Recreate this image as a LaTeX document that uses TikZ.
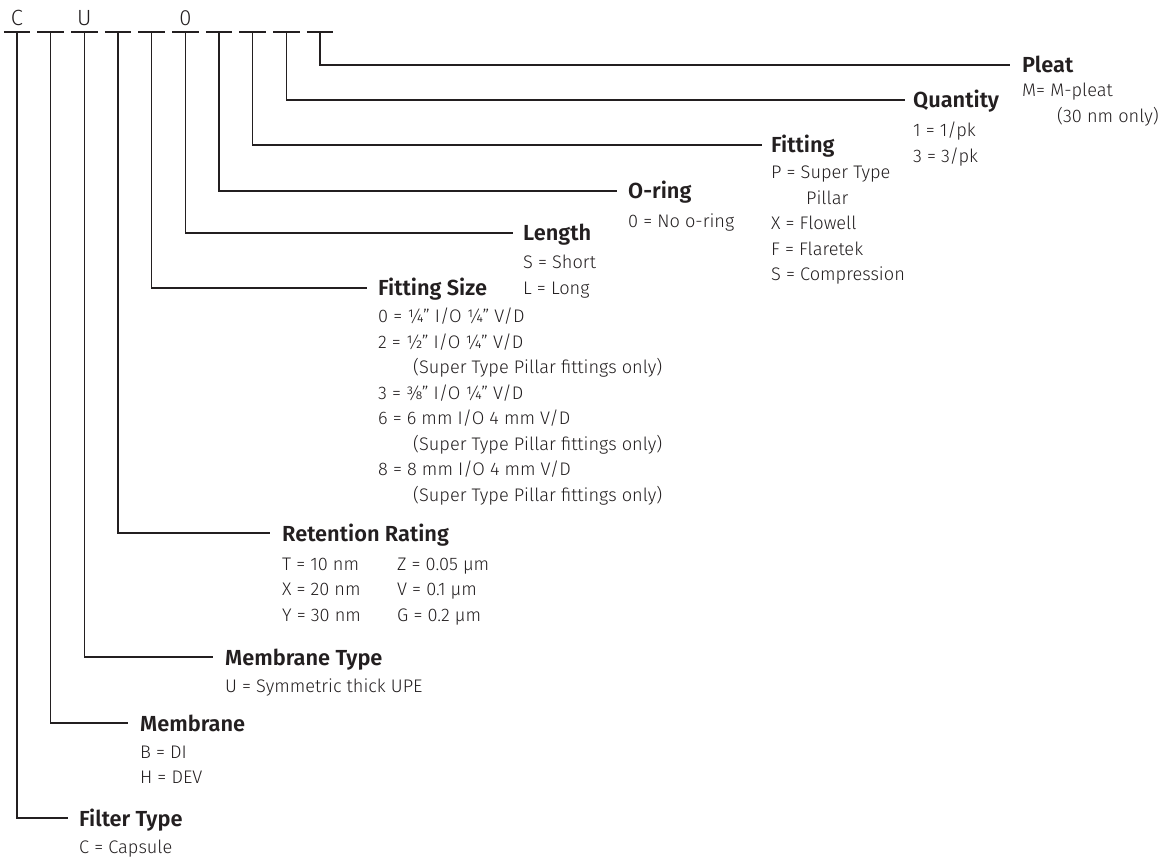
\documentclass[tikz,border=0pt]{standalone}
\usepackage{fontspec}
\setmainfont{Fira Sans Light}[BoldFont={Fira Sans SemiBold}]
\definecolor{ink}{HTML}{231F20}
\tikzset{
  slotline/.style={draw=ink, line width=1.6pt},
  leader/.style={draw=ink, line width=1.6pt},
  slotbox/.style={inner sep=0pt, minimum width=26pt, minimum height=0pt},
  head/.style={anchor=base west, inner sep=0pt, font=\fontsize{21.8}{24}\selectfont\bfseries, text=ink},
  body/.style={anchor=base west, inner sep=0pt, font=\fontsize{18.2}{25.5}\selectfont, text=ink},
  codeletter/.style={anchor=base, inner sep=0pt, font=\fontsize{22}{24}\selectfont, text=ink}
}
\newcommand{\ind}{\hspace*{35pt}}
\begin{document}
\begin{tikzpicture}[x=1pt,y=-1pt]
\useasboundingbox (0,0) rectangle (1165,858);
% slots
\foreach \i in {0,...,9}{
  \node[slotbox] (s\i) at ({17+33.67*\i},32) {};
  \draw[slotline] (s\i.west) -- (s\i.east);
}
\node[codeletter] (cC) at (17,26) {C};
\node[codeletter] (cU) at ({17+33.67*2},26) {U};
\node[codeletter] (cO) at ({17+33.67*5},26) {0};
% leader ends
\coordinate (e0) at (68,818);
\coordinate (e1) at (128,723);
\coordinate (e2) at (213,657);
\coordinate (e3) at (270,533);
\coordinate (e4) at (367,288);
\coordinate (e5) at (513,233);
\coordinate (e6) at (617,191);
\coordinate (e7) at (762,145);
\coordinate (e8) at (905,100);
\coordinate (e9) at (1010,65);
\foreach \i in {0,...,9}{
  \draw[leader] (s\i.center) |- (e\i);
}
% headings
\node[head] (h0) at (79,826) {Filter Type};
\node[head] (h1) at (140,731) {Membrane};
\node[head] (h2) at (225,665) {Membrane Type};
\node[head] (h3) at (282,541) {Retention Rating};
\node[head] (h4) at (378,296) {Fitting Size};
\node[head] (h5) at (523,241) {Length};
\node[head] (h6) at (628,199) {O-ring};
\node[head] (h7) at (771,153) {Fitting};
\node[head] (h8) at (913,108) {Quantity};
\node[head] (h9) at (1022,73) {Pleat};
% bodies
\node[body] (b0) at (79,853) {C = Capsule};
\node[body] (b1) at (140,758) {\begin{tabular}[t]{@{}l@{}}B = DI\\ H = DEV\end{tabular}};
\node[body] (b2) at (225,692) {U = Symmetric thick UPE};
\node[body] (b3) at (282,570) {\begin{tabular}[t]{@{}l@{}}
  \makebox[115pt][l]{T = 10 nm}Z = 0.05 µm\\
  \makebox[115pt][l]{X = 20 nm}V = 0.1 µm\\
  \makebox[115pt][l]{Y = 30 nm}G = 0.2 µm\end{tabular}};
\node[body] (b4) at (378,323) {\begin{tabular}[t]{@{}l@{}}
  0 = ¼" I/O ¼" V/D\\
  2 = ½" I/O ¼" V/D\\
  \ind(Super Type Pillar fittings only)\\
  3 = ⅜" I/O ¼" V/D\\
  6 = 6 mm I/O 4 mm V/D\\
  \ind(Super Type Pillar fittings only)\\
  8 = 8 mm I/O 4 mm V/D\\
  \ind(Super Type Pillar fittings only)\end{tabular}};
\node[body] (b5) at (523,269) {\begin{tabular}[t]{@{}l@{}}S = Short\\ L = Long\end{tabular}};
\node[body] (b6) at (628,228) {0 = No o-ring};
\node[body] (b7) at (771,179) {\begin{tabular}[t]{@{}l@{}}
  P = Super Type\\
  \ind Pillar\\
  X = Flowell\\
  F = Flaretek\\
  S = Compression\end{tabular}};
\node[body] (b8) at (913,137) {\begin{tabular}[t]{@{}l@{}}1 = 1/pk\\ 3 = 3/pk\end{tabular}};
\node[body] (b9) at (1022,97) {\begin{tabular}[t]{@{}l@{}}M= M-pleat\\ \ind(30 nm only)\end{tabular}};
\end{tikzpicture}
\end{document}
